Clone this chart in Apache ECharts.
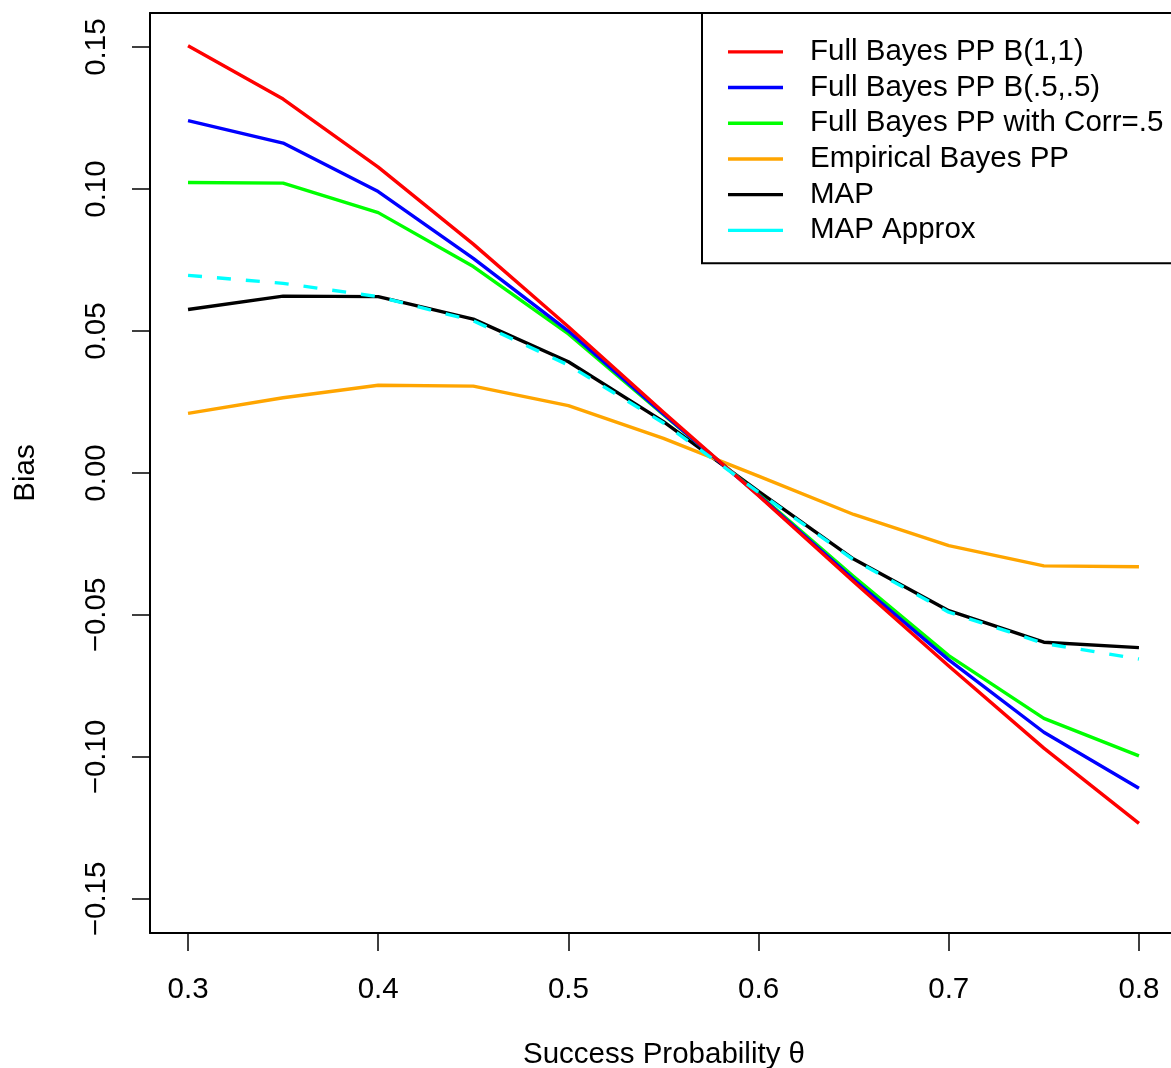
<!DOCTYPE html>
<html>
<head>
<meta charset="utf-8">
<script src="https://cdn.jsdelivr.net/npm/echarts@6/dist/echarts.min.js"></script>
<style>
html,body{margin:0;padding:0;background:#fff;}
#chart{width:1171px;height:1068px;}
</style>
</head>
<body>
<div id="chart"></div>
<script>
var theta = [0.3, 0.35, 0.4, 0.45, 0.5, 0.55, 0.6, 0.65, 0.7, 0.75, 0.8];
var fullB11 = [0.1505, 0.1317, 0.1077, 0.0806, 0.0515, 0.0214, -0.0080, -0.0383, -0.0680, -0.0969, -0.1234];
var fullB55 = [0.1241, 0.1162, 0.0991, 0.0756, 0.0500, 0.0208, -0.0078, -0.0375, -0.0658, -0.0913, -0.1110];
var fullCorr = [0.1023, 0.1021, 0.0917, 0.0727, 0.0490, 0.0205, -0.0075, -0.0365, -0.0643, -0.0864, -0.0996];
var empBayes = [0.0210, 0.0265, 0.0309, 0.0306, 0.0237, 0.0122, -0.0011, -0.0146, -0.0256, -0.0327, -0.0330];
var mapEst = [0.0576, 0.0623, 0.0621, 0.0542, 0.0392, 0.0181, -0.0065, -0.0303, -0.0485, -0.0596, -0.0615];
var mapApprox = [0.0696, 0.0668, 0.0621, 0.0536, 0.0380, 0.0176, -0.0068, -0.0306, -0.0490, -0.0600, -0.0655];
var xTicks = [0.3, 0.4, 0.5, 0.6, 0.7, 0.8];
var yTicks = [-0.15, -0.10, -0.05, 0.00, 0.05, 0.10, 0.15];
var seriesNames = ['Full Bayes PP B(1,1)', 'Full Bayes PP B(.5,.5)', 'Full Bayes PP with Corr=.5', 'Empirical Bayes PP', 'MAP', 'MAP Approx'];
var seriesColors = ['#ff0000', '#0000ff', '#00ff00', '#ffa500', '#000000', '#00ffff'];
var seriesValues = [fullB11, fullB55, fullCorr, empBayes, mapEst, mapApprox];

var FONT = '"Liberation Sans", Arial, Helvetica, sans-serif';
var FS = 29.5;

function pairs(vals) {
  return theta.map(function (t, i) { return [t, vals[i]]; });
}

var series = seriesValues.map(function (vals, i) {
  return {
    name: seriesNames[i],
    type: 'line',
    data: pairs(vals),
    symbol: 'none',
    silent: true,
    animation: false,
    z: i === 5 ? 10 : 5 - i,
    lineStyle: {
      color: seriesColors[i],
      width: 3.4,
      type: i === 5 ? [14, 15] : 'solid',
      cap: 'butt',
      join: 'round'
    },
    itemStyle: { color: seriesColors[i] }
  };
});

var chart = echarts.init(document.getElementById('chart'), null, { renderer: 'canvas' });
chart.setOption({
  backgroundColor: '#ffffff',
  animation: false,
  grid: {
    left: 150, top: 13, width: 1021, height: 920,
    show: false
  },
  xAxis: [{
    type: 'value', min: 0.28, max: 0.81685,
    position: 'bottom',
    axisLine: { show: true, onZero: false, lineStyle: { color: '#000', width: 2 } },
    splitLine: { show: false },
    axisTick: { show: true, length: 18, inside: false, customValues: xTicks, lineStyle: { color: '#000', width: 1.5 } },
    axisLabel: {
      show: true, customValues: xTicks, margin: 42,
      color: '#000', fontFamily: FONT, fontSize: FS,
      formatter: function (v) { return v.toFixed(1); }
    }
  }, {
    type: 'value', min: 0.28, max: 0.81685,
    position: 'top',
    axisLine: { show: true, onZero: false, lineStyle: { color: '#000', width: 2 } },
    splitLine: { show: false },
    axisTick: { show: false },
    axisLabel: { show: false }
  }],
  yAxis: {
    type: 'value', min: -0.162, max: 0.162,
    position: 'left',
    axisLine: { show: true, onZero: false, lineStyle: { color: '#000', width: 2 } },
    splitLine: { show: false },
    axisTick: { show: true, length: 18, inside: false, customValues: yTicks, lineStyle: { color: '#000', width: 1.5 } },
    axisLabel: {
      show: true, customValues: yTicks, margin: 38, rotate: 90,
      color: '#000', fontFamily: FONT, fontSize: FS,
      formatter: function (v) { var s = Math.abs(v).toFixed(2); return (v < -1e-9 ? '\u2212' : '') + s; }
    }
  },
  legend: {
    show: true,
    orient: 'vertical',
    left: 702, top: 13,
    padding: [21, 40, 15, 26],
    itemGap: 0,
    itemWidth: 55,
    itemHeight: 3.4,
    borderColor: '#000',
    borderWidth: 2,
    borderRadius: 0,
    backgroundColor: '#fff',
    selectedMode: false,
    icon: 'rect',
    textStyle: { color: '#000', fontFamily: FONT, fontSize: FS, lineHeight: 35.7, padding: [0, 0, 0, 22] },
    data: seriesNames.map(function (n, i) {
      return { name: n, icon: 'rect', itemStyle: { color: seriesColors[i] } };
    })
  },
  graphic: [
    {
      type: 'text', z: 100,
      x: 664, y: 1055,
      style: { text: 'Success Probability \u03b8', font: FS + 'px ' + FONT, fill: '#000', align: 'center', verticalAlign: 'middle' }
    },
    {
      type: 'text', z: 100,
      x: 11, y: 473, rotation: Math.PI / 2,
      style: { text: 'Bias', font: FS + 'px ' + FONT, fill: '#000', align: 'center', verticalAlign: 'top' }
    }
  ],
  series: series
});
</script>
</body>
</html>
